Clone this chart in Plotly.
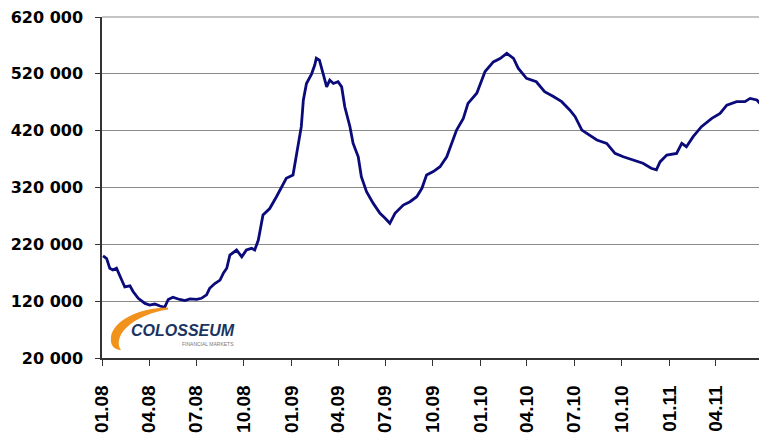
import plotly.graph_objects as go

# ---- data ----
dates = [
    "2008-01-03", "2008-01-10", "2008-01-16", "2008-01-22", "2008-01-29", "2008-02-04",
    "2008-02-14", "2008-02-24", "2008-03-01", "2008-03-11", "2008-03-24", "2008-04-02",
    "2008-04-12", "2008-04-22", "2008-05-01", "2008-05-08", "2008-05-17", "2008-05-30",
    "2008-06-09", "2008-06-19", "2008-07-02", "2008-07-11", "2008-07-21", "2008-07-27",
    "2008-08-06", "2008-08-16", "2008-08-23", "2008-08-29", "2008-09-04", "2008-09-17",
    "2008-09-27", "2008-10-06", "2008-10-16", "2008-10-22", "2008-10-29", "2008-11-07",
    "2008-11-20", "2008-12-03", "2008-12-13", "2008-12-22", "2009-01-04", "2009-01-14",
    "2009-01-20", "2009-01-24", "2009-01-30", "2009-02-09", "2009-02-15", "2009-02-18",
    "2009-02-24", "2009-03-03", "2009-03-10", "2009-03-16", "2009-03-23", "2009-04-01",
    "2009-04-08", "2009-04-14", "2009-04-24", "2009-04-30", "2009-05-10", "2009-05-16",
    "2009-05-26", "2009-06-08", "2009-06-21", "2009-07-01", "2009-07-10", "2009-07-20",
    "2009-08-05", "2009-08-18", "2009-08-31", "2009-09-10", "2009-09-19", "2009-10-02",
    "2009-10-15", "2009-10-28", "2009-11-06", "2009-11-16", "2009-11-29", "2009-12-08",
    "2009-12-25", "2010-01-01", "2010-01-10", "2010-01-26", "2010-02-08", "2010-02-21",
    "2010-03-06", "2010-03-15", "2010-03-31", "2010-04-19", "2010-05-05", "2010-05-22",
    "2010-06-07", "2010-06-23", "2010-07-03", "2010-07-16", "2010-07-26", "2010-08-14",
    "2010-09-02", "2010-09-18", "2010-10-04", "2010-10-23", "2010-11-11", "2010-11-27",
    "2010-12-07", "2010-12-14", "2010-12-27", "2011-01-15", "2011-01-25", "2011-02-03",
    "2011-02-16", "2011-03-04", "2011-03-24", "2011-04-09", "2011-04-22", "2011-05-11",
    "2011-05-27", "2011-06-06", "2011-06-19", "2011-06-28",
]
values = [
    199500, 195000, 178000, 175000, 178000, 166000,
    145000, 147000, 137000, 125000, 116000, 113000,
    115000, 111500, 109000, 123000, 127000, 123000,
    121000, 124000, 123000, 125000, 131000, 142600,
    151000, 157000, 170000, 178000, 201000, 210000,
    198000, 210000, 213000, 210000, 227600, 271600,
    283000, 303800, 321400, 336200, 342000, 392000,
    427000, 474000, 503000, 520000, 535500, 547400,
    544000, 521000, 497000, 509000, 503000, 506000,
    497000, 462000, 427000, 398000, 374000, 339000,
    312600, 292000, 274600, 266000, 257000, 274600,
    289000, 295000, 303800, 318600, 342000, 348000,
    356500, 374000, 394800, 421000, 441700, 468000,
    485800, 503000, 524000, 541000, 547000, 556000,
    547000, 530000, 512000, 506000, 488600, 480000,
    471000, 456000, 444600, 421000, 415000, 403600,
    397700, 380000, 374000, 368000, 362600, 353800,
    351000, 365000, 377000, 380000, 397700, 391700,
    409500, 427000, 441700, 450500, 465000, 471000,
    471000, 476800, 474000, 465000,
]

x_tick_vals = ["2008-01-01", "2008-04-01", "2008-07-01", "2008-10-01",
               "2009-01-01", "2009-04-01", "2009-07-01", "2009-10-01",
               "2010-01-01", "2010-04-01", "2010-07-01", "2010-10-01",
               "2011-01-01", "2011-04-01"]
x_tick_text = ["01.08", "04.08", "07.08", "10.08",
               "01.09", "04.09", "07.09", "10.09",
               "01.10", "04.10", "07.10", "10.10",
               "01.11", "04.11"]
y_tick_vals = [20000, 120000, 220000, 320000, 420000, 520000, 620000]
y_tick_text = ["20 000", "120 000", "220 000", "320 000", "420 000", "520 000", "620 000"]

fig = go.Figure()
fig.add_trace(go.Scatter(
    x=dates, y=values, mode="lines",
    line=dict(color="#0a0a7a", width=2.8),
    hoverinfo="skip", showlegend=False,
))

# helpers: page pixel -> plot-area (paper) fraction, for the decorative logo
def px(x):
    return (x - 102) / 659.7

def py(y):
    return (358 - y) / 341.0

swoosh = (f"M {px(168)},{py(307.5)} "
          f"C {px(138)},{py(308)} {px(113)},{py(321)} {px(111)},{py(337)} "
          f"C {px(110)},{py(345)} {px(114)},{py(350)} {px(121)},{py(350)} "
          f"C {px(117)},{py(345)} {px(118)},{py(336)} {px(126)},{py(328)} "
          f"C {px(136)},{py(318)} {px(152)},{py(312)} {px(168)},{py(309.5)} Z")
fig.add_shape(type="path", path=swoosh, xref="paper", yref="paper",
              fillcolor="#F0921C", line=dict(width=0), layer="above")

fig.add_annotation(x=px(183), y=py(330.5), xref="paper", yref="paper",
                   xanchor="center", yanchor="middle",
                   text="COLOSSEUM", showarrow=False,
                   font=dict(family="Liberation Sans, Arial", size=16, color="#1c3560",
                             weight="bold", style="italic"))
fig.add_annotation(x=px(208), y=py(343.5), xref="paper", yref="paper",
                   xanchor="center", yanchor="middle",
                   text="FINANCIAL MARKETS", showarrow=False,
                   font=dict(family="Liberation Sans, Arial", size=5, color="#777777"))

fig.update_layout(
    width=759, height=426,
    margin=dict(l=94, r=5, t=9, b=76, autoexpand=False),
    paper_bgcolor="white", plot_bgcolor="white",
    xaxis=dict(
        type="date",
        range=["2008-01-01", "2011-06-29"],
        tickvals=x_tick_vals, ticktext=x_tick_text,
        tickangle=-90,
        tickfont=dict(family="Liberation Sans, Arial", size=19, color="black", weight="bold"),
        ticks="outside", ticklen=6, tickcolor="#333333", tickwidth=1,
        showgrid=False,
        showline=True, linecolor="#333333", linewidth=1.5,
        mirror=False, zeroline=False, automargin=False,
        ticklabelstandoff=12, ticklabeloverflow="allow",
    ),
    yaxis=dict(
        range=[19999, 620001],
        tickvals=y_tick_vals, ticktext=y_tick_text,
        tickfont=dict(family="DejaVu Sans", size=16, color="black", weight="bold"),
        ticks="outside", ticklen=5, tickcolor="#333333", tickwidth=1,
        showgrid=True, gridcolor="#8a8a8a", gridwidth=1.2,
        showline=True, linecolor="#333333", linewidth=1.5,
        zeroline=False, automargin=False,
        ticklabelstandoff=9, ticklabeloverflow="allow",
    ),
)
fig.add_shape(type="line", xref="paper", yref="paper", x0=1, x1=1, y0=0, y1=1,
              line=dict(color="#8a8a8a", width=1.2))
fig.add_shape(type="line", xref="paper", yref="paper", x0=0, x1=1, y0=1, y1=1,
              line=dict(color="#8a8a8a", width=1.2))

fig.write_html("out.html")
